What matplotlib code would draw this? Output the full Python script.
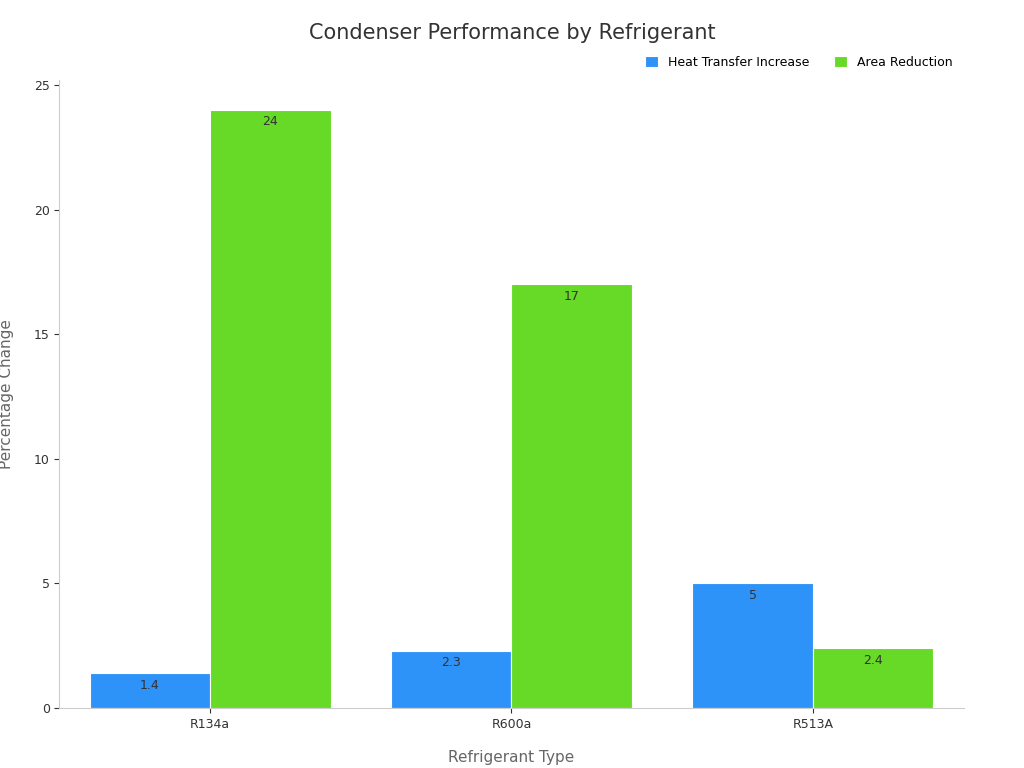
import matplotlib
matplotlib.use("Agg")
import matplotlib.pyplot as plt
import numpy as np

categories = ["R134a", "R600a", "R513A"]
heat_transfer = [1.4, 2.3, 5]
area_reduction = [24, 17, 2.4]
series_names = ["Heat Transfer Increase", "Area Reduction"]

fig = plt.figure(figsize=(10.24, 7.68), dpi=100)
ax = fig.add_axes([0.058, 0.078, 0.883, 0.818])
x = np.arange(len(categories))
w = 0.4
b1 = ax.bar(x - w/2, heat_transfer, w, color="#2E93F8", edgecolor="white", linewidth=0.8, label=series_names[0])
b2 = ax.bar(x + w/2, area_reduction, w, color="#66DA26", edgecolor="white", linewidth=0.8, label=series_names[1])
for bars in (b1, b2):
    for r in bars:
        ax.annotate(f"{r.get_height():g}", (r.get_x() + r.get_width()/2, r.get_height()),
                    xytext=(0, -4), textcoords="offset points", ha="center", va="top",
                    fontsize=9, color="#333333")
ax.set_xlim(-0.5, 2.5)
ax.set_ylim(0, 25.2)
ax.set_yticks([0, 5, 10, 15, 20, 25])
ax.set_xticks(x)
ax.set_xticklabels(categories)
ax.tick_params(labelsize=9, colors="#333333")
for s in ["top", "right"]:
    ax.spines[s].set_visible(False)
ax.spines["left"].set_color("#cccccc")
ax.spines["bottom"].set_color("#cccccc")
ax.set_xlabel("Refrigerant Type", fontsize=11, color="#666666", labelpad=14)
ax.set_ylabel("Percentage Change", fontsize=11, color="#666666", labelpad=14)
fig.suptitle("Condenser Performance by Refrigerant", fontsize=15, color="#333333", y=0.97)
ax.legend(loc="lower right", bbox_to_anchor=(1.0, 1.0), ncol=2, frameon=False, fontsize=9,
          handlelength=1, handleheight=1, columnspacing=2)
fig.savefig("out.png", dpi=100)
